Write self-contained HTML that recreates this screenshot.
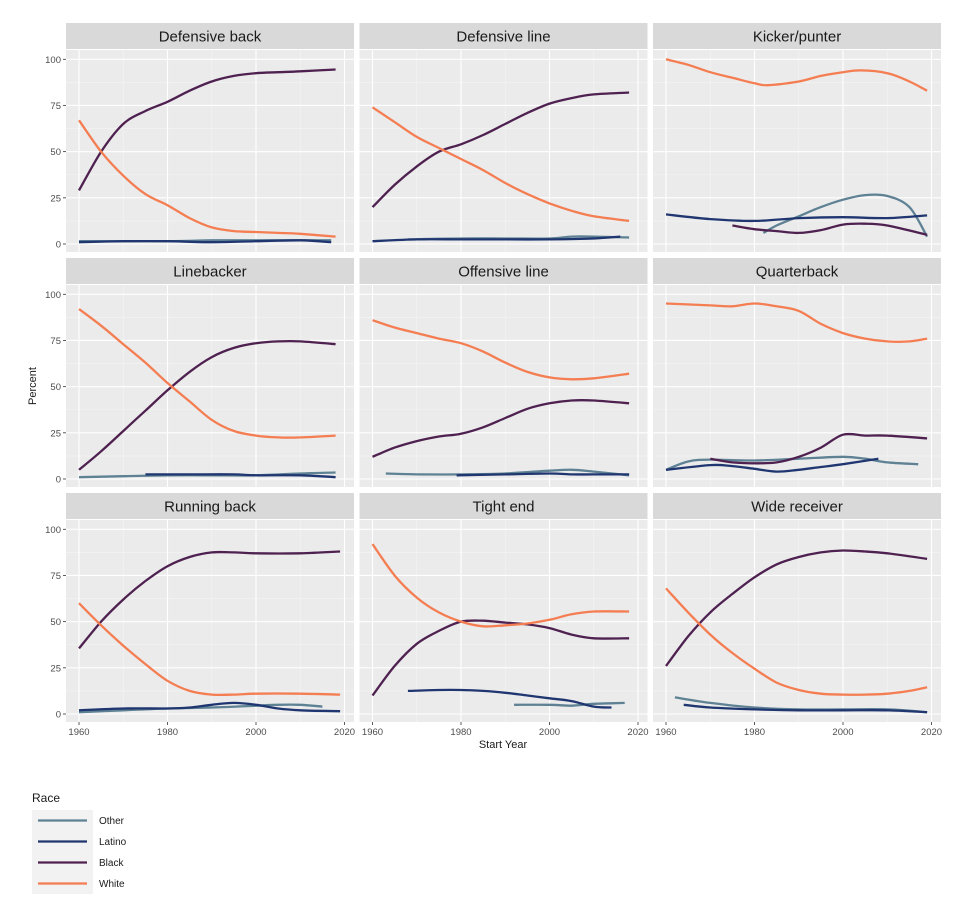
<!DOCTYPE html>
<html><head><meta charset="utf-8">
<style>
html,body{margin:0;padding:0;background:#fff;}
svg{display:block;font-family:"Liberation Sans",sans-serif;}
</style></head>
<body>
<svg id="chart" width="977" height="914" viewBox="0 0 977 914"></svg>
<script>
const panelTitles = ["Defensive back","Defensive line","Kicker/punter","Linebacker","Offensive line","Quarterback","Running back","Tight end","Wide receiver"];
const raceNames = ["Other","Latino","Black","White"];
const raceColors = ["#5e8194","#1f3670","#4e2150","#f47d52"];
const yTicks = [0,25,50,75,100];
const xTicks = [1960,1980,2000,2020];

// per panel: years & values for each race [Other, Latino, Black, White]
const dbYears = [[1960,1980,1990,2000,2010,2017],[1960,1970,1980,1990,2000,2010,2017],[1960,1965,1970,1975,1980,1985,1990,1995,2000,2005,2010,2018],[1960,1965,1970,1975,1980,1985,1990,1995,2000,2005,2010,2018]];
const dbVals = [[1.5,1.5,2,2,2,2],[1,1.5,1.5,1,1.5,2,1],[29,50,65,72,77,83,88,91,92.5,93,93.5,94.5],[67,50,37,27,21,14,9,7,6.5,6,5.5,4]];
const dlYears = [[1968,1980,1990,2000,2005,2010,2018],[1960,1970,1980,1990,2000,2010,2016],[1960,1965,1970,1975,1980,1985,1990,1995,2000,2005,2010,2018],[1960,1965,1970,1975,1980,1985,1990,1995,2000,2005,2010,2018]];
const dlVals = [[2.5,3,3,3,4,4,3.5],[1.5,2.5,2.5,2.5,2.5,3,4],[20,32,42,50,54,59,65,71,76,79,81,82],[74,66,58,52,46,40,33,27,22,18,15,12.5]];
const kpYears = [[1982,1985,1990,1995,2000,2005,2010,2015,2019],[1960,1970,1980,1990,2000,2010,2019],[1975,1980,1985,1990,1995,2000,2005,2010,2019],[1960,1965,1970,1975,1980,1983,1990,1995,2000,2004,2010,2015,2019]];
const kpVals = [[6,10,15,20,24,26.5,26,20,4],[16,13.5,12.5,14,14.5,14,15.5],[10,8,7,6,7.5,10.5,11,10,5],[100,97,93,90,87,86,88,91,93,94,92.5,88,83]];
const lbYears = [[1960,1970,1980,1990,2000,2010,2018],[1975,1985,1995,2000,2010,2018],[1960,1965,1970,1975,1980,1985,1990,1995,2000,2005,2010,2018],[1960,1965,1970,1975,1980,1985,1990,1995,2000,2005,2010,2018]];
const lbVals = [[1,1.5,2,2,2,3,3.5],[2.5,2.5,2.5,2,2,1],[5,15,26,37,48,58,66,71,73.5,74.5,74.5,73],[92,83,73,63,52,42,32,26,23.5,22.5,22.5,23.5]];
const olYears = [[1963,1970,1980,1990,2000,2005,2010,2018],[1979,1990,2000,2005,2010,2018],[1960,1965,1970,1975,1980,1985,1990,1995,2000,2005,2010,2018],[1960,1965,1970,1975,1980,1985,1990,1995,2000,2005,2010,2018]];
const olVals = [[3,2.5,2.5,3,4.5,5,4,2],[2,2.5,3,2.5,2.5,2.5],[12,17,20.5,23,24.5,28,33,38,41,42.5,42.5,41],[86,82,79,76,73.5,69,63,58,55,54,54.5,57]];
const qbYears = [[1960,1965,1970,1980,1990,2000,2005,2010,2017],[1960,1970,1975,1980,1985,1990,1995,2000,2008],[1970,1975,1980,1985,1990,1995,2000,2005,2010,2019],[1960,1970,1975,1980,1985,1990,1995,2000,2005,2010,2015,2019]];
const qbVals = [[5,9.5,10.5,10,11,12,11,9,8],[5,7.5,7,5.5,4,5,6.5,8,11],[11,9,8.5,9,12,17,24,23.5,23.5,22],[95,94,93.5,95,93.5,91,84,79,76,74.5,74.5,76]];
const rbYears = [[1960,1970,1980,1990,2000,2005,2010,2015],[1960,1970,1980,1985,1990,1995,2000,2005,2010,2019],[1960,1965,1970,1975,1980,1985,1990,1995,2000,2010,2019],[1960,1965,1970,1975,1980,1985,1990,1995,2000,2010,2019]];
const rbVals = [[1,2,3,3.5,4.5,5,5,4],[2,3,3,3.5,5,6,5,3,2,1.5],[35.5,50,62,72,80,85,87.5,87.5,87,87,88],[60,48,37,27,18,12.5,10.5,10.5,11,11,10.5]];
const teYears = [[1992,2000,2005,2010,2017],[1968,1975,1980,1985,1990,1995,2000,2005,2010,2014],[1960,1965,1970,1975,1980,1985,1990,1995,2000,2005,2010,2018],[1960,1965,1970,1975,1980,1985,1990,1995,2000,2005,2010,2018]];
const teVals = [[5,5,4.5,5.5,6],[12.5,13,13,12.5,11.5,10,8.5,7,4,3.5],[10,26,38,45,50,50.5,49.5,48.5,46.5,43,41,41],[92,75,63,55,50,47.5,48,49,51,54,55.5,55.5]];
const wrYears = [[1962,1970,1980,1990,2000,2010,2019],[1964,1970,1980,1990,2000,2010,2019],[1960,1965,1970,1975,1980,1985,1990,1995,2000,2005,2010,2019],[1960,1965,1970,1975,1980,1985,1990,1995,2000,2005,2010,2015,2019]];
const wrVals = [[9,6,3.5,2.5,2.5,2.5,1],[5,3.5,2.5,2,2,2,1],[26,42,55,65,74,81,85,87.5,88.5,88,87,84],[68,55,43,33,24.5,17,13,11,10.5,10.5,11,12.5,14.5]];

const allYears = [dbYears,dlYears,kpYears,lbYears,olYears,qbYears,rbYears,teYears,wrYears];
const allVals = [dbVals,dlVals,kpVals,lbVals,olVals,qbVals,rbVals,teVals,wrVals];

const NS = "http://www.w3.org/2000/svg";
const svg = document.getElementById("chart");
function mk(tag, attrs, parent){const e=document.createElementNS(NS,tag);for(const k in attrs)e.setAttribute(k,attrs[k]);(parent||svg).appendChild(e);return e;}

const colX = [66,359.5,653];
const rowY = [23,258,493];
const panelW = 288, stripH = 26, plotH = 202;
function xScale(c, yr){return colX[c] + 13 + (yr-1960)*(265.5/60);}
function yScale(r, v){const y0 = rowY[r]+221, y100 = rowY[r]+36.3; return y0 - v*(y0-y100)/100;}

function smoothPath(pts){
  let d = "M"+pts[0][0].toFixed(1)+","+pts[0][1].toFixed(1);
  for(let i=0;i<pts.length-1;i++){
    const p0=pts[Math.max(0,i-1)],p1=pts[i],p2=pts[i+1],p3=pts[Math.min(pts.length-1,i+2)];
    const c1=[p1[0]+(p2[0]-p0[0])/6,p1[1]+(p2[1]-p0[1])/6];
    const c2=[p2[0]-(p3[0]-p1[0])/6,p2[1]-(p3[1]-p1[1])/6];
    d+=" C"+c1[0].toFixed(1)+","+c1[1].toFixed(1)+" "+c2[0].toFixed(1)+","+c2[1].toFixed(1)+" "+p2[0].toFixed(1)+","+p2[1].toFixed(1);
  }
  return d;
}

for(let p=0;p<9;p++){
  const r=Math.floor(p/3), c=p%3;
  const g = mk("g",{});
  
  
  const strip = mk("rect",{x:colX[c],y:rowY[r],width:panelW,height:stripH,fill:"#d9d9d9"},g);
  
  
  const st = mk("text",{x:colX[c]+panelW/2,y:rowY[r]+18.5,"text-anchor":"middle","font-size":"15",fill:"#1a1a1a"},g);
  st.textContent = panelTitles[p];
  
  
  const py = rowY[r]+stripH+1;
  const bg = mk("rect",{x:colX[c],y:py,width:panelW,height:plotH,fill:"#ebebeb"},g);
  
  
  // minor grid
  for(let v=12.5; v<100; v+=25){mk("line",{x1:colX[c],x2:colX[c]+panelW,y1:yScale(r,v),y2:yScale(r,v),stroke:"#f5f5f5","stroke-width":0.6},g);}
  [1970,1990,2010].forEach(yr=>mk("line",{x1:xScale(c,yr),x2:xScale(c,yr),y1:py,y2:py+plotH,stroke:"#f5f5f5","stroke-width":0.6},g));
  yTicks.forEach(v=>mk("line",{x1:colX[c],x2:colX[c]+panelW,y1:yScale(r,v),y2:yScale(r,v),stroke:"#fff","stroke-width":1.1},g));
  xTicks.forEach(yr=>mk("line",{x1:xScale(c,yr),x2:xScale(c,yr),y1:py,y2:py+plotH,stroke:"#fff","stroke-width":1.1},g));
  if(c===0){
    yTicks.forEach(v=>{
      mk("line",{x1:colX[c]-3,x2:colX[c],y1:yScale(r,v),y2:yScale(r,v),stroke:"#333","stroke-width":0.8},g);
      const t=mk("text",{x:colX[c]-5,y:yScale(r,v)+3.5,"text-anchor":"end","font-size":"9.5",fill:"#4d4d4d"},g);
      t.textContent=v;
      
      
    });
  }
  if(r===2){
    xTicks.forEach(yr=>{
      mk("line",{x1:xScale(c,yr),x2:xScale(c,yr),y1:py+plotH,y2:py+plotH+3,stroke:"#333","stroke-width":0.8},g);
      const t=mk("text",{x:xScale(c,yr),y:py+plotH+13,"text-anchor":"middle","font-size":"9.5",fill:"#4d4d4d"},g);
      t.textContent=yr;
      
      
    });
  }
  for(let s=0;s<4;s++){
    const yrs=allYears[p][s], vals=allVals[p][s];
    const pts=yrs.map((yr,i)=>[xScale(c,yr),yScale(r,vals[i])]);
    const path=mk("path",{d:smoothPath(pts),fill:"none",stroke:raceColors[s],"stroke-width":2.3,"stroke-linecap":"butt"},g);
    
    
  }
}

const yt = mk("text",{x:0,y:0,transform:"translate(36,386) rotate(-90)","text-anchor":"middle","font-size":"11",fill:"#1a1a1a"});
yt.textContent="Percent";


const xt = mk("text",{x:503,y:748,"text-anchor":"middle","font-size":"11",fill:"#1a1a1a"});
xt.textContent="Start Year";



const lg = mk("g",{});


const lt = mk("text",{x:32,y:802,"font-size":"12",fill:"#1a1a1a"},lg);
lt.textContent="Race";


mk("rect",{x:32,y:810,width:61,height:84,fill:"#f2f2f2"},lg);
for(let s=0;s<4;s++){
  const yy = 820.5 + s*21;
  const e = mk("g",{},lg);
  
  
  mk("line",{x1:38,x2:87,y1:yy,y2:yy,stroke:raceColors[s],"stroke-width":2.3},e);
  const t=mk("text",{x:99,y:yy+3.5,"font-size":"10",fill:"#1a1a1a"},e);
  t.textContent=raceNames[s];
}
</script>
</body></html>
